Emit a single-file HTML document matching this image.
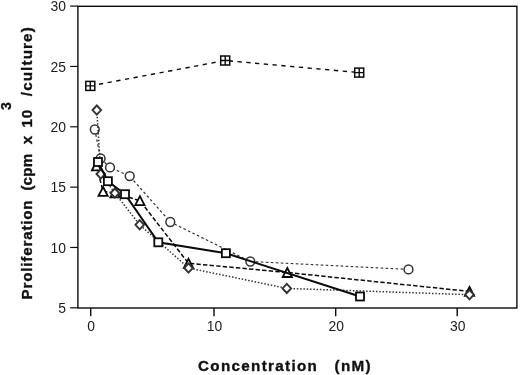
<!DOCTYPE html>
<html><head><meta charset="utf-8"><title>Proliferation vs Concentration</title>
<style>
html,body{margin:0;padding:0;background:#fff;}
body{width:520px;height:375px;overflow:hidden;}
svg{display:block;filter:blur(0.3px);}
text{font-family:"Liberation Sans",sans-serif;fill:#1c1c1c;}
.tk{font-size:13.9px;}
.b{font-weight:bold;font-size:15.2px;fill:#111;stroke:#111;stroke-width:0.35px;}
</style></head><body>
<svg width="520" height="375" viewBox="0 0 520 375">
<rect width="520" height="375" fill="#fff"/>

<rect x="77.9" y="6.3" width="439.0" height="301.7" fill="none" stroke="#0a0a0a" stroke-width="1.4"/>
<line x1="70.2" x2="77.9" y1="307.80" y2="307.80" stroke="#0a0a0a" stroke-width="1.2"/>
<text class="tk" x="65.9" y="312.90" text-anchor="end">5</text>
<line x1="70.2" x2="77.9" y1="247.46" y2="247.46" stroke="#0a0a0a" stroke-width="1.2"/>
<text class="tk" x="65.9" y="252.56" text-anchor="end">10</text>
<line x1="70.2" x2="77.9" y1="187.12" y2="187.12" stroke="#0a0a0a" stroke-width="1.2"/>
<text class="tk" x="65.9" y="192.22" text-anchor="end">15</text>
<line x1="70.2" x2="77.9" y1="126.78" y2="126.78" stroke="#0a0a0a" stroke-width="1.2"/>
<text class="tk" x="65.9" y="131.88" text-anchor="end">20</text>
<line x1="70.2" x2="77.9" y1="66.44" y2="66.44" stroke="#0a0a0a" stroke-width="1.2"/>
<text class="tk" x="65.9" y="71.54" text-anchor="end">25</text>
<line x1="70.2" x2="77.9" y1="6.10" y2="6.10" stroke="#0a0a0a" stroke-width="1.2"/>
<text class="tk" x="65.9" y="11.20" text-anchor="end">30</text>
<line x1="90.70" x2="90.70" y1="308.0" y2="316.2" stroke="#0a0a0a" stroke-width="1.4"/>
<text class="tk" x="91.20" y="331.4" text-anchor="middle">0</text>
<line x1="214.00" x2="214.00" y1="308.0" y2="316.2" stroke="#0a0a0a" stroke-width="1.4"/>
<text class="tk" x="214.50" y="331.4" text-anchor="middle">10</text>
<line x1="335.70" x2="335.70" y1="308.0" y2="316.2" stroke="#0a0a0a" stroke-width="1.4"/>
<text class="tk" x="336.20" y="331.4" text-anchor="middle">20</text>
<line x1="457.20" x2="457.20" y1="308.0" y2="316.2" stroke="#0a0a0a" stroke-width="1.4"/>
<text class="tk" x="457.70" y="331.4" text-anchor="middle">30</text>
<polyline points="94.8,129.5 100.6,158.5 110.0,167.4 129.7,176.1 170.3,222.0 250.3,261.5 408.5,269.4" fill="none" stroke="#333" stroke-width="1.2" stroke-dasharray="2.6 2.4"/>
<circle cx="94.8" cy="129.5" r="4.4" fill="#fff" stroke="#333" stroke-width="1.5"/>
<circle cx="100.6" cy="158.5" r="4.4" fill="#fff" stroke="#333" stroke-width="1.5"/>
<circle cx="110.0" cy="167.4" r="4.4" fill="#fff" stroke="#333" stroke-width="1.5"/>
<circle cx="129.7" cy="176.1" r="4.4" fill="#fff" stroke="#333" stroke-width="1.5"/>
<circle cx="170.3" cy="222.0" r="4.4" fill="#fff" stroke="#333" stroke-width="1.5"/>
<circle cx="250.3" cy="261.5" r="4.4" fill="#fff" stroke="#333" stroke-width="1.5"/>
<circle cx="408.5" cy="269.4" r="4.4" fill="#fff" stroke="#333" stroke-width="1.5"/>
<polyline points="96.5,165.8 103.1,191.5 115.0,193.0 139.9,200.7 188.5,263.3 287.3,272.5 469.5,291.4" fill="none" stroke="#0a0a0a" stroke-width="1.5" stroke-dasharray="4.4 2.2"/>
<path d="M96.5 161.3L101.1 170.3L91.9 170.3Z" fill="#fff" stroke="#0a0a0a" stroke-width="1.8" stroke-linejoin="miter"/>
<path d="M103.1 187.0L107.7 195.8L98.5 195.8Z" fill="#fff" stroke="#0a0a0a" stroke-width="1.8" stroke-linejoin="miter"/>
<path d="M115.0 188.5L119.6 197.3L110.4 197.3Z" fill="#fff" stroke="#0a0a0a" stroke-width="1.8" stroke-linejoin="miter"/>
<path d="M139.9 196.2L144.5 205.2L135.3 205.2Z" fill="#fff" stroke="#0a0a0a" stroke-width="1.8" stroke-linejoin="miter"/>
<path d="M188.5 258.8L193.1 267.8L183.9 267.8Z" fill="#fff" stroke="#0a0a0a" stroke-width="1.8" stroke-linejoin="miter"/>
<path d="M287.3 268.0L291.9 277.0L282.7 277.0Z" fill="#fff" stroke="#0a0a0a" stroke-width="1.8" stroke-linejoin="miter"/>
<path d="M469.5 286.9L474.1 295.9L464.9 295.9Z" fill="#fff" stroke="#0a0a0a" stroke-width="1.8" stroke-linejoin="miter"/>
<polyline points="96.8,110.1 100.8,174.0 114.9,193.1 139.7,224.8 188.5,268.0 286.8,288.4 469.5,294.7" fill="none" stroke="#333" stroke-width="1.5" stroke-dasharray="1.5 1.8"/>
<path d="M96.8 105.5L101.1 110.1L96.8 114.7L92.5 110.1Z" fill="#fff" stroke="#333" stroke-width="1.9"/>
<path d="M100.8 169.4L105.1 174.0L100.8 178.6L96.5 174.0Z" fill="#fff" stroke="#333" stroke-width="1.9"/>
<path d="M114.9 188.5L119.2 193.1L114.9 197.7L110.6 193.1Z" fill="#fff" stroke="#333" stroke-width="1.9"/>
<path d="M139.7 220.2L144.0 224.8L139.7 229.4L135.4 224.8Z" fill="#fff" stroke="#333" stroke-width="1.9"/>
<path d="M188.5 263.4L192.8 268.0L188.5 272.6L184.2 268.0Z" fill="#fff" stroke="#333" stroke-width="1.9"/>
<path d="M286.8 283.8L291.1 288.4L286.8 293.0L282.5 288.4Z" fill="#fff" stroke="#333" stroke-width="1.9"/>
<path d="M469.5 290.1L473.8 294.7L469.5 299.3L465.2 294.7Z" fill="#fff" stroke="#333" stroke-width="1.9"/>
<polyline points="98.0,162.0 107.9,181.2 125.0,194.2 158.3,242.3 225.9,253.2 360.0,296.5" fill="none" stroke="#0a0a0a" stroke-width="2"/>
<rect x="94.0" y="158.0" width="8" height="8" fill="#fff" stroke="#0a0a0a" stroke-width="1.8"/>
<rect x="103.9" y="177.2" width="8" height="8" fill="#fff" stroke="#0a0a0a" stroke-width="1.8"/>
<rect x="121.0" y="190.2" width="8" height="8" fill="#fff" stroke="#0a0a0a" stroke-width="1.8"/>
<rect x="154.3" y="238.3" width="8" height="8" fill="#fff" stroke="#0a0a0a" stroke-width="1.8"/>
<rect x="221.9" y="249.2" width="8" height="8" fill="#fff" stroke="#0a0a0a" stroke-width="1.8"/>
<rect x="356.0" y="292.5" width="8" height="8" fill="#fff" stroke="#0a0a0a" stroke-width="1.8"/>
<polyline points="90.3,85.9 225.2,60.5 359.2,72.6" fill="none" stroke="#0a0a0a" stroke-width="1.4" stroke-dasharray="4.3 4.5"/>
<rect x="85.8" y="81.4" width="9" height="9" fill="#fff" stroke="#0a0a0a" stroke-width="1.5"/>
<path d="M90.3 81.4V90.4M85.8 85.9H94.8" stroke="#0a0a0a" stroke-width="1.4" fill="none"/>
<rect x="220.7" y="56.0" width="9" height="9" fill="#fff" stroke="#0a0a0a" stroke-width="1.5"/>
<path d="M225.2 56.0V65.0M220.7 60.5H229.7" stroke="#0a0a0a" stroke-width="1.4" fill="none"/>
<rect x="354.7" y="68.1" width="9" height="9" fill="#fff" stroke="#0a0a0a" stroke-width="1.5"/>
<path d="M359.2 68.1V77.1M354.7 72.6H363.7" stroke="#0a0a0a" stroke-width="1.4" fill="none"/>
<text class="b" x="198.0" y="371.2" textLength="118.9" lengthAdjust="spacing">Concentration</text>
<text class="b" x="334.5" y="371.2" textLength="36" lengthAdjust="spacing">(nM)</text>
<text class="b" transform="translate(31.5 299.4) rotate(-90)" textLength="99.0" lengthAdjust="spacing">Proliferation</text>
<text class="b" transform="translate(31.5 190.6) rotate(-90)" textLength="36.8" lengthAdjust="spacing">(cpm</text>
<text class="b" transform="translate(31.5 144.2) rotate(-90)" textLength="8.0" lengthAdjust="spacing">x</text>
<text class="b" transform="translate(31.5 127.6) rotate(-90)" textLength="17.8" lengthAdjust="spacing">10</text>
<text class="b" transform="translate(31.5 96.2) rotate(-90)" textLength="68.9" lengthAdjust="spacing">/culture)</text>
<text transform="translate(11.2 110) rotate(-90)" style="font-weight:bold;font-size:14px;fill:#111;stroke:#111;stroke-width:0.3px">3</text>
</svg></body></html>
